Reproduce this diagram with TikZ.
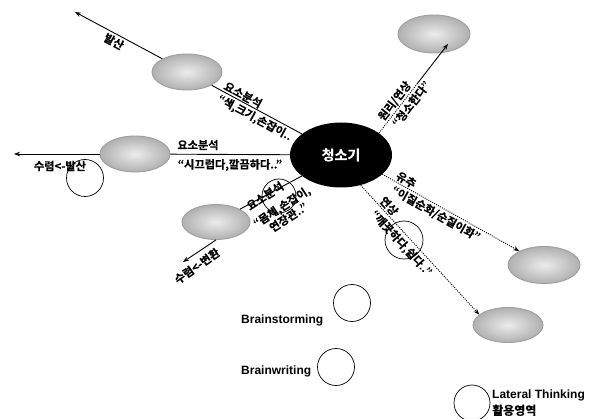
\documentclass[tikz,border=0pt]{standalone}
\usepackage{fontspec}
\setmainfont{Liberation Sans}
\newfontfamily\kr{Noto Sans CJK KR}[BoldFont={Noto Sans CJK KR Bold}, BoldFeatures={FakeBold=0.4}]
\usetikzlibrary{arrows.meta,calc,shapes.geometric}
\tikzset{
  lbl/.style={font=\kr\bfseries\fontsize{11.2}{12.5}\selectfont, inner sep=1.2pt},
  idea/.style={ellipse, minimum width=70pt, minimum height=36pt, inner sep=0pt,
    shade, inner color=gray!15, outer color=gray!62, draw=gray!75, line width=0.9pt},
  hub/.style={ellipse, fill=black, text=white, minimum width=102pt, minimum height=65pt,
    inner sep=0pt, font=\kr\bfseries\fontsize{14}{16}\selectfont},
  ring/.style={circle, draw, line width=0.7pt, minimum size=37pt, inner sep=0pt},
  conn/.style={line width=0.9pt},
  tip/.style={-{Stealth[length=6pt,width=4.5pt]}},
  arr/.style={conn, tip},
  dots/.style={conn, dash pattern=on 1pt off 1.2pt},
  eng/.style={font=\bfseries\fontsize{12}{16}\selectfont, inner sep=1pt}
}
\begin{document}
\begin{tikzpicture}[x=1pt,y=-1pt]
\useasboundingbox (0,0) rectangle (601,419);
% idea ellipses
\node[idea] (E1) at (187,72) {};
\node[idea] (E2) at (135,154) {};
\node[idea, minimum width=68pt, minimum height=35pt] (E3) at (216,222) {};
\node[idea, minimum width=72pt, minimum height=38pt] (E4) at (434,34) {};
\node[idea, minimum width=72pt, minimum height=37pt] (E5) at (544,265) {};
\node[idea, minimum height=35pt] (E6) at (508,325) {};
% hub
\node[hub] (C) at (341,155) {청소기};
% tips
\coordinate (t1) at (75,12);
\coordinate (t2) at (14,154);
\coordinate (t3) at (183,262);
\coordinate (t4) at (448,44);
\coordinate (m4) at ($(C.30)!0.55!(t4)$);
% branch 1
\draw[conn] (C) -- (E1);
\draw[arr] (E1) -- (t1);
\path (t1) -- (C.center)
  node[lbl, sloped, below=1pt, pos=0.16] (l1a) {발산}
  node[lbl, sloped, above, pos=0.62] (l1b) {요소분석}
  node[lbl, sloped, below=1pt, pos=0.69] (l1c) {“색,크기,손잡이..};
% branch 2
\draw[conn] (C) -- (E2);
\draw[arr] (E2) -- (t2);
\node[lbl] (l2a) at (198,145) {요소분석};
\node[lbl] (l2b) at (230,165) {“시끄럽다,깔끔하다..”};
\node[lbl] (l2c) at (60,166) {수렴<-발산};
% branch 3
\draw[conn] (C) -- (E3);
\draw[arr] (E3.south) -- (t3);
\node[lbl, rotate=33] (l3a) at (265,196) {요소분석};
\node[lbl, rotate=33, align=center] (l3b) at (285,212) {“몸체,손잡이,\\연장관..”};
\node[lbl, rotate=35] (l3c) at (197,266) {수렴<-변환};
% branch 4
\draw[dots] (C.30) -- (m4);
\draw[arr] (m4) -- (t4);
\path (C.30) -- (t4)
  node[lbl, sloped, above, pos=0.31] (l4a) {원리/연상}
  node[lbl, sloped, below=1pt, pos=0.38] (l4b) {“청소한다”};
% branch 5
\draw[dots, tip] (C.-25) -- (E5)
  node[lbl, sloped, above, pos=0.15] (l5a) {유추}
  node[lbl, sloped, below=1pt, pos=0.42] (l5b) {“이질순화/순질이화”};
% branch 6
\draw[dots, tip] (C.-57) -- (E6.160)
  node[lbl, sloped, above, pos=0.197] (l6a) {연상}
  node[lbl, sloped, below=2pt, pos=0.40] (l6b) {“깨끗하다,쉽다..”};
% rings
\node[ring] (R1) at (85,178) {};
\node[ring, minimum size=34pt] (R2) at (279,196) {};
\node[ring, minimum size=38pt] (R3) at (404,240) {};
\node[ring] (R4) at (352,303) {};
\node[ring] (R5) at (336,367) {};
\node[ring, minimum size=36pt] (R6) at (472,403) {};
% legend texts
\node[eng, anchor=west] (bs) at (240,320) {Brainstorming};
\node[eng, anchor=west] (bw) at (240,371) {Brainwriting};
\node[eng, anchor=west, align=left] (lt) at (491,403) {Lateral Thinking\\{\kr\bfseries 활용영역}};
\end{tikzpicture}
\end{document}
